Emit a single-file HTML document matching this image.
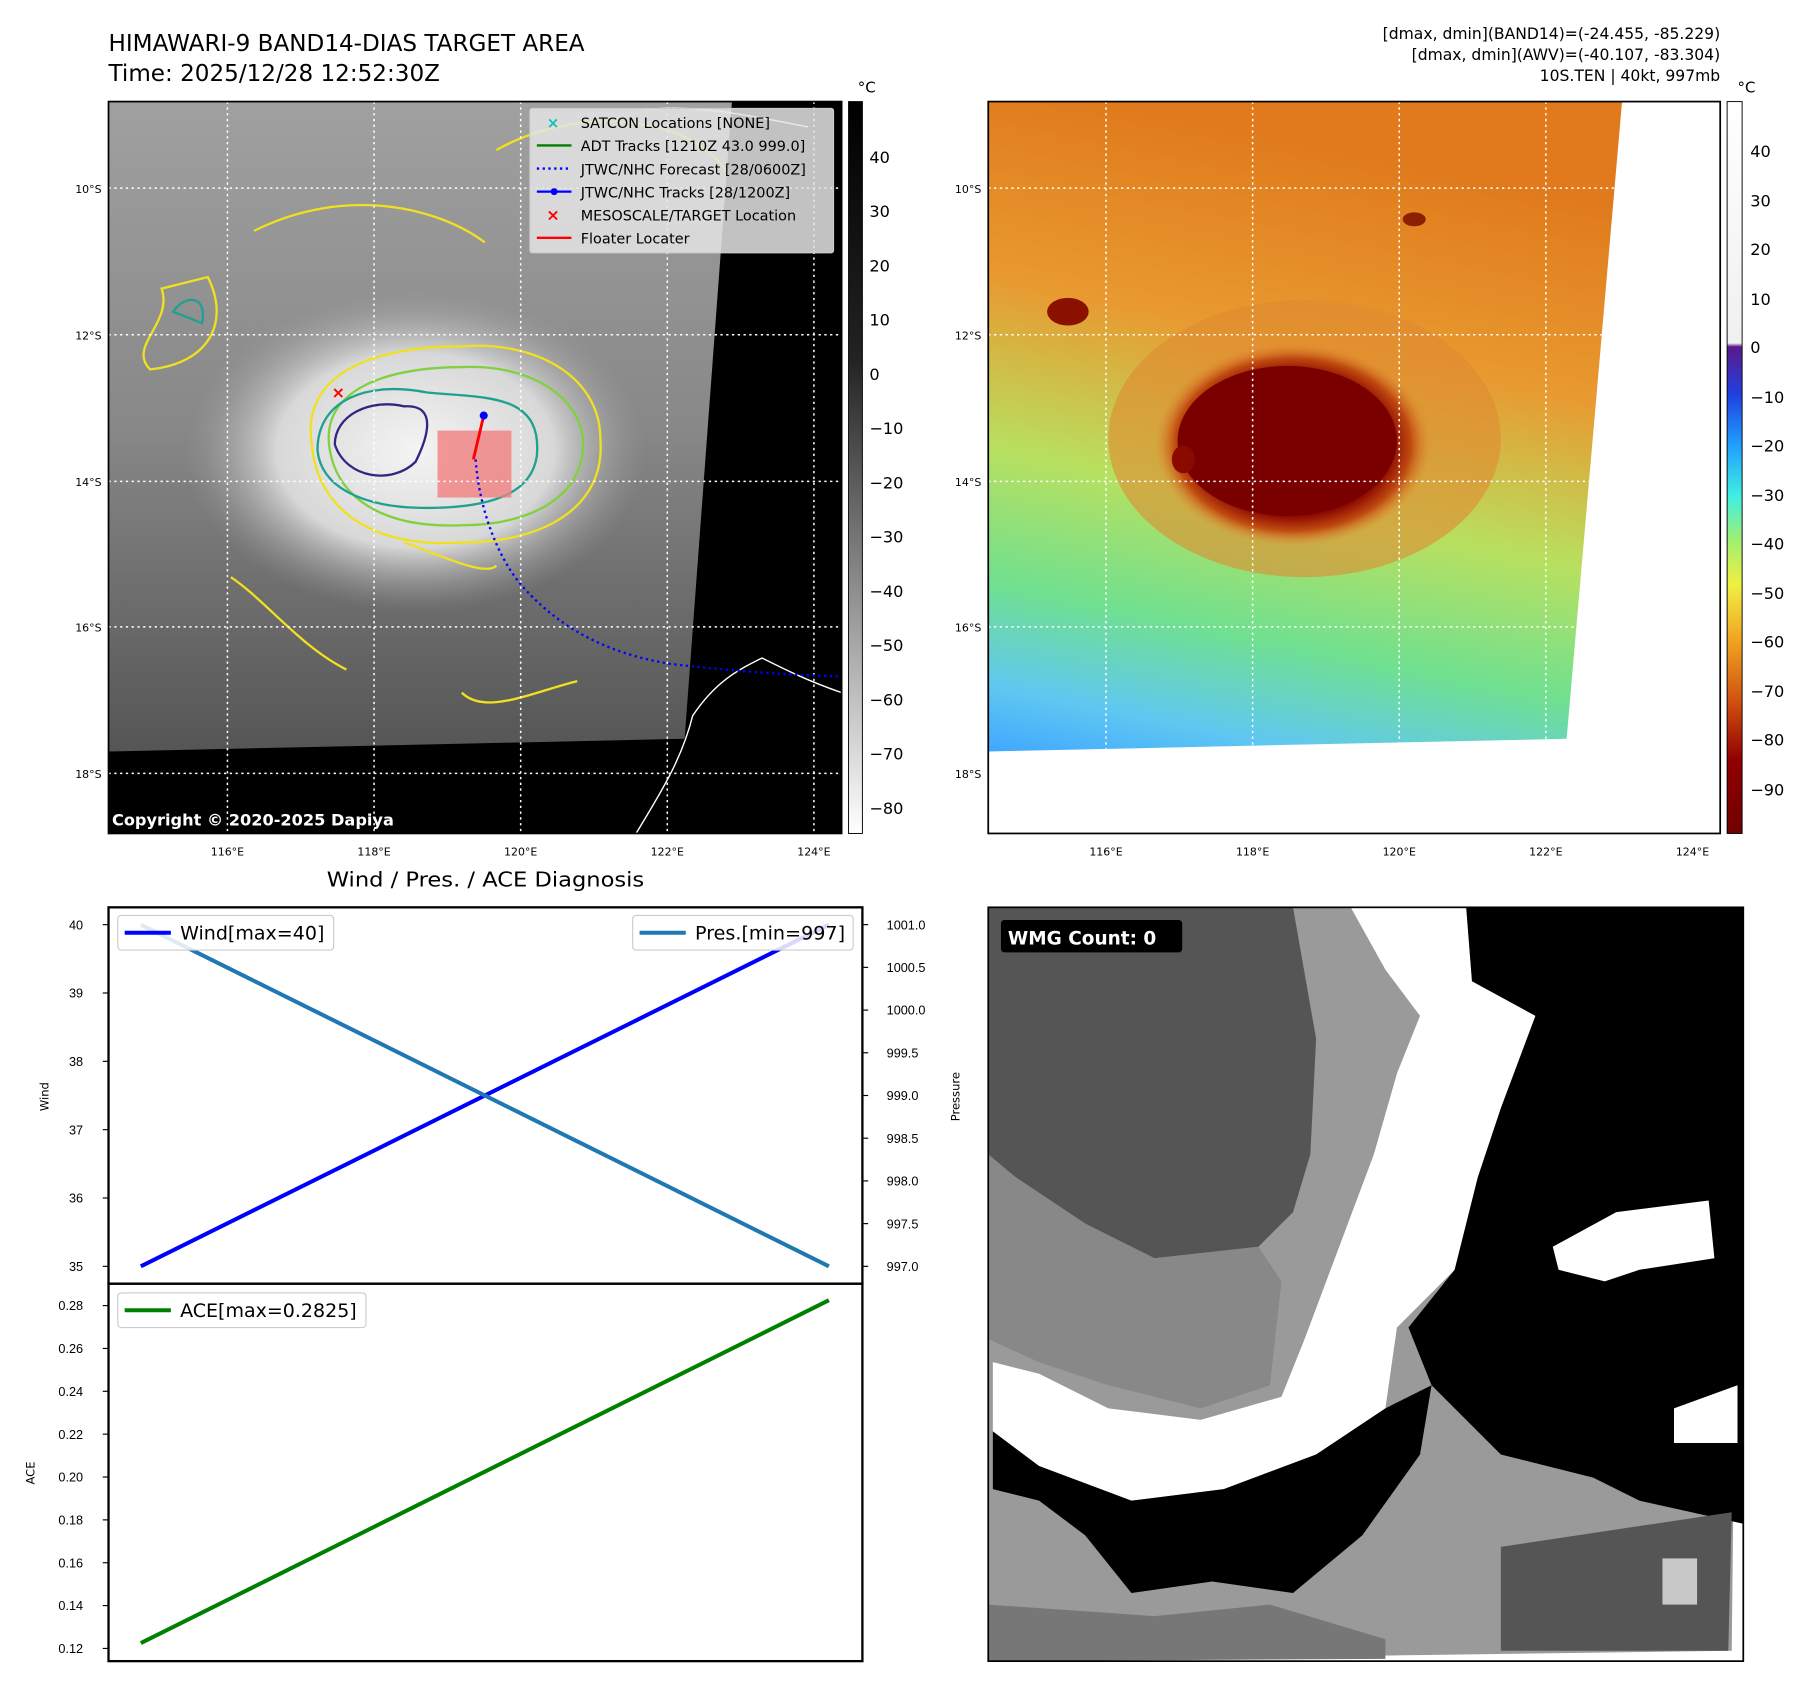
<!DOCTYPE html>
<html><head><meta charset="utf-8"><style>
html,body{margin:0;padding:0;background:#fff}
svg{display:block;font-family:"DejaVu Sans","Liberation Sans",sans-serif}
</style></head><body>
<svg id="fig" width="1801" height="1690" viewBox="0 0 1560 1464" preserveAspectRatio="none" xmlns="http://www.w3.org/2000/svg">
<defs>
<radialGradient id="gcore" cx="0.5" cy="0.5" r="0.5"><stop offset="0" stop-color="#f4f4f4"/><stop offset="0.6" stop-color="#d8d8d8"/><stop offset="1" stop-color="#9a9a9a" stop-opacity="0"/></radialGradient>
<linearGradient id="gbg" x1="0" y1="0" x2="0" y2="1"><stop offset="0" stop-color="#a0a0a0"/><stop offset="0.5" stop-color="#888"/><stop offset="1" stop-color="#555"/></linearGradient>
<linearGradient id="cbgray" x1="0" y1="0" x2="0" y2="1"><stop offset="0" stop-color="#000"/><stop offset="0.35" stop-color="#222"/><stop offset="1" stop-color="#fff"/></linearGradient>
<linearGradient id="rbg" x1="0.2" y1="0" x2="0" y2="1"><stop offset="0" stop-color="#e07a1c"/><stop offset="0.3" stop-color="#e89a30"/><stop offset="0.55" stop-color="#b8e060"/><stop offset="0.75" stop-color="#70e090"/><stop offset="0.9" stop-color="#60c8f0"/><stop offset="1" stop-color="#40a8ff"/></linearGradient>
<radialGradient id="rcore" cx="0.5" cy="0.5" r="0.5"><stop offset="0" stop-color="#7a0000"/><stop offset="0.7" stop-color="#8a0600"/><stop offset="0.85" stop-color="#c04a10"/><stop offset="1" stop-color="#e08a30" stop-opacity="0"/></radialGradient>
<linearGradient id="cbrain" x1="0" y1="0" x2="0" y2="1"><stop offset="0" stop-color="#fff"/><stop offset="0.33" stop-color="#f0f0f0"/><stop offset="0.335" stop-color="#5a1a8a"/><stop offset="0.4" stop-color="#2040e0"/><stop offset="0.47" stop-color="#20a0ff"/><stop offset="0.54" stop-color="#40f0e0"/><stop offset="0.6" stop-color="#a0f070"/><stop offset="0.66" stop-color="#f0f040"/><stop offset="0.74" stop-color="#f0a020"/><stop offset="0.82" stop-color="#d05010"/><stop offset="0.9" stop-color="#900000"/><stop offset="1" stop-color="#700000"/></linearGradient>
<clipPath id="clipL"><rect x="94" y="88" width="635" height="634"/></clipPath>
<clipPath id="clipR"><rect x="856" y="88" width="634" height="634"/></clipPath>
</defs>

<text x="94" y="44" font-size="20">HIMAWARI-9 BAND14-DIAS TARGET AREA</text>
<text x="94" y="70" font-size="20">Time: 2025/12/28 12:52:30Z</text>
<g font-size="13.5" text-anchor="end">
<text x="1490" y="34">[dmax, dmin](BAND14)=(-24.455, -85.229)</text>
<text x="1490" y="52">[dmax, dmin](AWV)=(-40.107, -83.304)</text>
<text x="1490" y="70">10S.TEN | 40kt, 997mb</text>
</g>

<!-- LEFT MAP -->
<g clip-path="url(#clipL)">
<rect x="94" y="88" width="635" height="634" fill="#000"/>
<polygon points="94,88 634,88 593,640 94,651" fill="url(#gbg)"/>
<ellipse cx="360" cy="390" rx="200" ry="140" fill="url(#gcore)"/>
<g fill="none" stroke-width="2">
<path d="M270,385 C260,320 330,300 400,300 C470,295 520,330 520,380 C525,440 470,470 400,470 C320,475 275,440 270,385Z" stroke="#f0e020"/>
<path d="M285,385 C280,335 340,318 400,318 C460,315 505,345 505,385 C505,430 460,455 400,455 C330,458 290,430 285,385Z" stroke="#80d040"/>
<path d="M275,390 C275,345 320,330 370,340 C420,345 470,340 465,395 C460,430 420,440 370,440 C310,440 278,420 275,390Z" stroke="#20a090"/>
<path d="M290,385 C290,360 320,345 350,352 C380,350 370,380 360,400 C340,420 300,415 290,385Z" stroke="#302880"/>
<path d="M140,250 C150,280 110,300 130,320 C180,315 200,280 180,240Z M220,200 C300,160 380,180 420,210 M430,130 C500,90 600,100 630,150" stroke="#f0e020"/>
<path d="M150,270 C160,255 180,255 175,280Z" stroke="#20a090"/>
<path d="M200,500 C230,520 260,560 300,580 M400,600 C420,620 460,600 500,590 M350,470 C380,480 420,500 430,490" stroke="#f0e020"/>
</g>
<rect x="379" y="373" width="64" height="58" fill="#f08080" opacity="0.8"/>
<path d="M551,722 C570,690 590,660 600,620 C620,590 640,580 660,570 C680,580 700,590 729,600" fill="none" stroke="#fff" stroke-width="1.2"/>
<path d="M560,95 C600,90 650,100 700,110" fill="none" stroke="#fff" stroke-width="1.2"/>
<g stroke="#fff" stroke-width="1.3" stroke-dasharray="2,3">
<line x1="197" y1="88" x2="197" y2="722"/><line x1="324" y1="88" x2="324" y2="722"/><line x1="451" y1="88" x2="451" y2="722"/><line x1="578" y1="88" x2="578" y2="722"/><line x1="705" y1="88" x2="705" y2="722"/>
<line x1="94" y1="163" x2="729" y2="163"/><line x1="94" y1="290" x2="729" y2="290"/><line x1="94" y1="417" x2="729" y2="417"/><line x1="94" y1="543" x2="729" y2="543"/><line x1="94" y1="670" x2="729" y2="670"/>
</g>
<path d="M412,398 C415,440 430,480 450,505 C480,540 520,565 580,575 C640,582 690,585 729,586" fill="none" stroke="#0000ff" stroke-width="2" stroke-dasharray="2,3"/>
<path d="M419,360 L410,398" stroke="#ff0000" stroke-width="2.5"/>
<circle cx="419" cy="360" r="3.5" fill="#0000ff"/>
<text x="293" y="345" fill="#ff0000" font-size="14" font-weight="bold" text-anchor="middle">×</text>
<text x="97" y="715" fill="#fff" font-size="14" font-weight="bold">Copyright © 2020-2025 Dapiya</text>
</g>
<rect x="94" y="88" width="635" height="634" fill="none" stroke="#000" stroke-width="1.5"/>
<g font-size="12.5">
<rect x="459" y="94" width="263" height="125" fill="#e4e4e4" fill-opacity="0.85" stroke="#ccc" rx="2"/>
<text x="479" y="111" fill="#10c0c0" font-size="13" font-weight="bold" text-anchor="middle">×</text><text x="503" y="111">SATCON Locations [NONE]</text>
<line x1="465" y1="126" x2="495" y2="126" stroke="#008000" stroke-width="2"/><text x="503" y="131">ADT Tracks [1210Z 43.0 999.0]</text>
<line x1="465" y1="146" x2="495" y2="146" stroke="#0000ff" stroke-width="2" stroke-dasharray="2,3"/><text x="503" y="151">JTWC/NHC Forecast [28/0600Z]</text>
<line x1="465" y1="166" x2="495" y2="166" stroke="#0000ff" stroke-width="2"/><circle cx="480" cy="166" r="3" fill="#0000ff"/><text x="503" y="171">JTWC/NHC Tracks [28/1200Z]</text>
<text x="479" y="191" fill="#ff0000" font-size="14" font-weight="bold" text-anchor="middle">×</text><text x="503" y="191">MESOSCALE/TARGET Location</text>
<line x1="465" y1="206" x2="495" y2="206" stroke="#ff0000" stroke-width="2"/><text x="503" y="211">Floater Locater</text>
</g>
<g font-size="9.5" text-anchor="end">
<text x="88" y="167">10°S</text><text x="88" y="294">12°S</text><text x="88" y="421">14°S</text><text x="88" y="547">16°S</text><text x="88" y="674">18°S</text>
</g>
<g font-size="9.5" text-anchor="middle">
<text x="197" y="741">116°E</text><text x="324" y="741">118°E</text><text x="451" y="741">120°E</text><text x="578" y="741">122°E</text><text x="705" y="741">124°E</text>
</g>
<g>
<rect x="735" y="88" width="12" height="634" fill="url(#cbgray)" stroke="#000" stroke-width="0.8"/>
<text x="743" y="80" font-size="13">°C</text>
<g font-size="14">
<text x="753" y="141">40</text><text x="753" y="188">30</text><text x="753" y="235">20</text><text x="753" y="282">10</text><text x="753" y="329">0</text><text x="753" y="376">−10</text><text x="753" y="423">−20</text><text x="753" y="470">−30</text><text x="753" y="517">−40</text><text x="753" y="564">−50</text><text x="753" y="611">−60</text><text x="753" y="658">−70</text><text x="753" y="705">−80</text>
</g></g>

<!-- RIGHT MAP -->
<g clip-path="url(#clipR)">
<rect x="856" y="88" width="634" height="634" fill="#fff"/>
<polygon points="856,88 1405,88 1357,640 856,651" fill="url(#rbg)"/>
<ellipse cx="1130" cy="380" rx="170" ry="120" fill="#e08a30" opacity="0.6"/>
<ellipse cx="1120" cy="385" rx="120" ry="88" fill="url(#rcore)"/>
<ellipse cx="1115" cy="382" rx="95" ry="65" fill="#7a0000"/>
<ellipse cx="925" cy="270" rx="18" ry="12" fill="#8a1000"/>
<ellipse cx="1025" cy="398" rx="10" ry="12" fill="#8a0a00"/>
<ellipse cx="1225" cy="190" rx="10" ry="6" fill="#8a2000"/>
<g stroke="#fff" stroke-width="1.3" stroke-dasharray="2,3">
<line x1="958" y1="88" x2="958" y2="722"/><line x1="1085" y1="88" x2="1085" y2="722"/><line x1="1212" y1="88" x2="1212" y2="722"/><line x1="1339" y1="88" x2="1339" y2="722"/><line x1="1466" y1="88" x2="1466" y2="722"/>
<line x1="856" y1="163" x2="1490" y2="163"/><line x1="856" y1="290" x2="1490" y2="290"/><line x1="856" y1="417" x2="1490" y2="417"/><line x1="856" y1="543" x2="1490" y2="543"/><line x1="856" y1="670" x2="1490" y2="670"/>
</g>
</g>
<rect x="856" y="88" width="634" height="634" fill="none" stroke="#000" stroke-width="1.5"/>
<g font-size="9.5" text-anchor="end">
<text x="850" y="167">10°S</text><text x="850" y="294">12°S</text><text x="850" y="421">14°S</text><text x="850" y="547">16°S</text><text x="850" y="674">18°S</text>
</g>
<g font-size="9.5" text-anchor="middle">
<text x="958" y="741">116°E</text><text x="1085" y="741">118°E</text><text x="1212" y="741">120°E</text><text x="1339" y="741">122°E</text><text x="1466" y="741">124°E</text>
</g>
<g>
<rect x="1496" y="88" width="13" height="634" fill="url(#cbrain)" stroke="#000" stroke-width="0.8"/>
<text x="1505" y="80" font-size="13">°C</text>
<g font-size="14">
<text x="1516" y="136">40</text><text x="1516" y="179">30</text><text x="1516" y="221">20</text><text x="1516" y="264">10</text><text x="1516" y="306">0</text><text x="1516" y="349">−10</text><text x="1516" y="391">−20</text><text x="1516" y="434">−30</text><text x="1516" y="476">−40</text><text x="1516" y="519">−50</text><text x="1516" y="561">−60</text><text x="1516" y="604">−70</text><text x="1516" y="646">−80</text><text x="1516" y="689">−90</text>
</g></g>

<!-- DIAGNOSIS CHART -->
<text x="283" y="768" font-size="18" textLength="275" lengthAdjust="spacingAndGlyphs">Wind / Pres. / ACE Diagnosis</text>
<g id="chart"></g>

<!-- WMG PANEL -->
<g>
<rect x="856" y="786" width="654" height="653" fill="#fff"/>
<polygon points="856,786 1507,786 1500,1430 856,1439" fill="#9a9a9a"/>
<polygon points="856,786 1120,786 1140,900 1135,1000 1120,1050 1090,1080 1000,1090 940,1060 880,1020 856,1000" fill="#555"/>
<polygon points="856,1000 880,1020 940,1060 1000,1090 1090,1080 1110,1110 1100,1200 1040,1220 960,1200 900,1180 856,1160" fill="#888"/>
<polygon points="1170,786 1270,786 1275,850 1330,880 1300,960 1280,1020 1260,1100 1210,1150 1200,1220 1140,1260 1060,1290 980,1300 900,1270 860,1240 860,1180 900,1190 960,1220 1040,1230 1110,1210 1130,1160 1160,1080 1190,1000 1210,930 1230,880 1200,840" fill="#fff"/>
<polygon points="1270,786 1510,786 1510,1320 1420,1300 1380,1280 1300,1260 1240,1200 1220,1150 1260,1100 1280,1020 1300,960 1330,880 1275,850" fill="#000"/>
<polygon points="860,1240 900,1270 980,1300 1060,1290 1140,1260 1200,1220 1240,1200 1230,1260 1180,1330 1120,1380 1050,1370 980,1380 940,1330 900,1300 860,1290" fill="#000"/>
<polygon points="1345,1080 1400,1050 1480,1040 1485,1090 1420,1100 1390,1110 1350,1100" fill="#fff"/>
<polygon points="1450,1220 1505,1200 1505,1250 1450,1250" fill="#fff"/>
<polygon points="1300,1340 1500,1310 1497,1430 1300,1430" fill="#555"/>
<polygon points="856,1390 1000,1400 1100,1390 1200,1420 1200,1437 856,1439" fill="#777"/>
<rect x="1440" y="1350" width="30" height="40" fill="#c8c8c8"/>
<rect x="856" y="786" width="654" height="653" fill="none" stroke="#000" stroke-width="1.5"/>
<rect x="867" y="797" width="157" height="28" rx="3" fill="#000"/>
<text x="873" y="818" font-size="16" font-weight="bold" fill="#fff">WMG Count: 0</text>
</g>
</svg>
<script>
const times = [0, 1];
const windValues = [35, 40];
const presValues = [1001, 997];
const aceValues = [0.1225, 0.2825];
const windTicks = [35, 36, 37, 38, 39, 40];
const presTicks = [997.0, 997.5, 998.0, 998.5, 999.0, 999.5, 1000.0, 1000.5, 1001.0];
const aceTicks = [0.12, 0.14, 0.16, 0.18, 0.20, 0.22, 0.24, 0.26, 0.28];

const NS = "http://www.w3.org/2000/svg";
const chart = document.getElementById('chart');
function mk(tag, attrs, parent) {
  const e = document.createElementNS(NS, tag);
  for (const k in attrs) e.setAttribute(k, attrs[k]);
  (parent || chart).appendChild(e);
  return e;
}
const X0 = 122, X1 = 718;
const xS = t => X0 + (t - times[0]) / (times[times.length - 1] - times[0]) * (X1 - X0);
const yWind = v => 1097 + (v - 35) / (40 - 35) * (801 - 1097);
const yPres = v => 1097 + (v - 997) / (1001 - 997) * (801 - 1097);
const yAce = v => 1428 + (v - 0.12) / (0.28 - 0.12) * (1131 - 1428);

const f1 = mk('rect', {x: 94, y: 786, width: 653, height: 326, fill: 'none', stroke: '#000', 'stroke-width': 2});


const f2 = mk('rect', {x: 94, y: 1112, width: 653, height: 327, fill: 'none', stroke: '#000', 'stroke-width': 2});



function ticks(arr, yf, side, fmt) {
  arr.forEach(v => {
    const y = yf(v);
    const x = side === 'left' ? 94 : 747;
    const dx = side === 'left' ? -5 : 5;
    mk('line', {x1: x, y1: y, x2: x + dx, y2: y, stroke: '#000', 'stroke-width': 1});
    const t = mk('text', {x: side === 'left' ? 72 : 768, y: y + 4, 'font-size': 11, 'font-family': 'Liberation Sans Narrow, Liberation Sans, sans-serif', 'text-anchor': side === 'left' ? 'end' : 'start'});
    
    
    t.textContent = fmt(v);
  });
}
ticks(windTicks, yWind, 'left', v => String(v));
ticks(presTicks, yPres, 'right', v => v.toFixed(1));
ticks(aceTicks, yAce, 'left', v => v.toFixed(2));

function axTitle(txt, x, y, name) {
  const t = mk('text', {x: x, y: y, 'font-size': 10, 'text-anchor': 'middle', transform: `rotate(-90 ${x} ${y})`});
  
  
  t.textContent = txt;
}
axTitle('Wind', 42, 950, 'wind-axis-title');
axTitle('Pressure', 831, 950, 'pressure-axis-title');
axTitle('ACE', 30, 1276, 'ace-axis-title');

function line(vals, yf, color, name) {
  const pts = vals.map((v, i) => xS(times[i]) + ',' + yf(v)).join(' ');
  const p = mk('polyline', {points: pts, fill: 'none', stroke: color, 'stroke-width': 3.5});
  
  
}
line(windValues, yWind, '#0000ff', 'wind-line');
line(presValues, yPres, '#1f77b4', 'pressure-line');
line(aceValues, yAce, '#008000', 'ace-line');

function legend(x, y, w, color, txt, tl, name) {
  const g = mk('g', {});
  
  
  mk('rect', {x: x, y: y, width: w, height: 30, rx: 3, fill: '#fff', 'fill-opacity': 0.85, stroke: '#ccc'}, g);
  mk('line', {x1: x + 6, y1: y + 15, x2: x + 46, y2: y + 15, stroke: color, 'stroke-width': 3.5}, g);
  const t = mk('text', {x: x + 54, y: y + 21, 'font-size': 16, textLength: tl, lengthAdjust: 'spacingAndGlyphs'}, g);
  t.textContent = txt;
}
legend(102, 793, 187, '#0000ff', 'Wind[max=' + Math.max(...windValues) + ']', 125, 'wind-legend');
legend(548, 793, 191, '#1f77b4', 'Pres.[min=' + Math.min(...presValues) + ']', 130, 'pressure-legend');
legend(102, 1120, 215, '#008000', 'ACE[max=' + Math.max(...aceValues) + ']', 153, 'ace-legend');
</script>
</body></html>
